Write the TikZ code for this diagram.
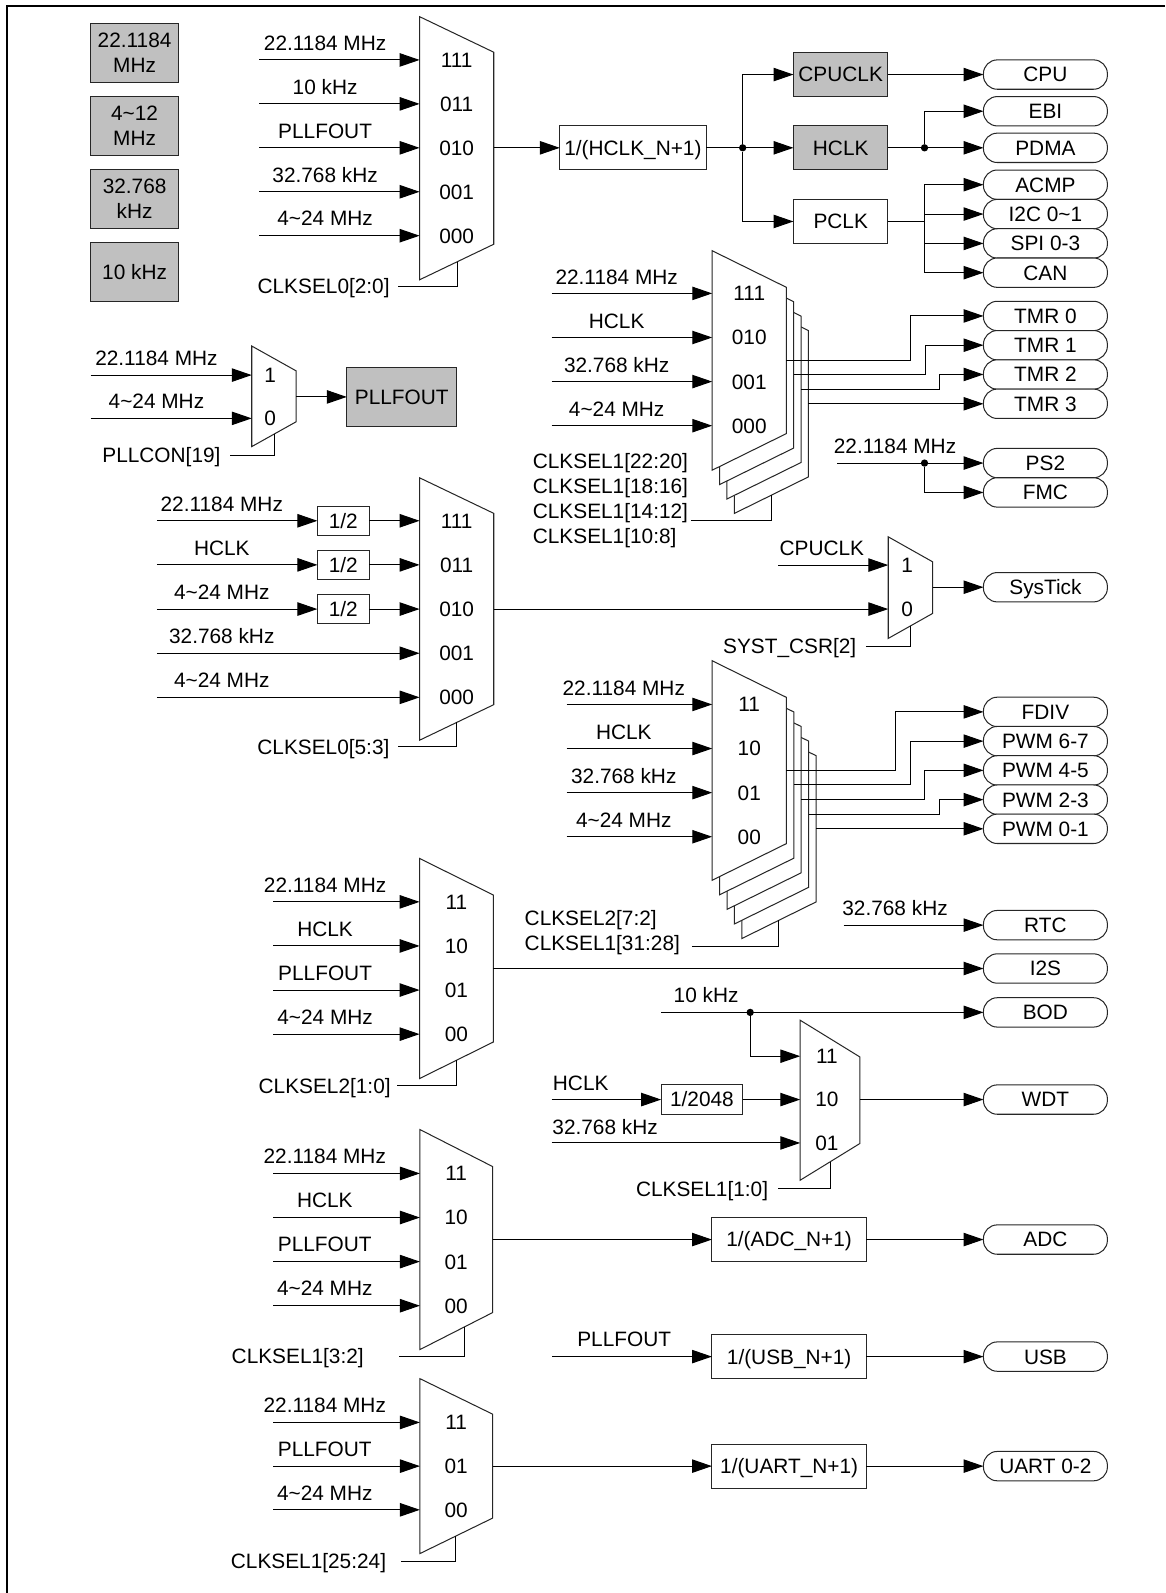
\documentclass[tikz,border=0pt]{standalone}
\usepackage{fontspec}
\setmainfont{Liberation Sans}
\usetikzlibrary{arrows.meta}
\definecolor{clkgray}{RGB}{192,192,192}

\tikzset{
    sig/.style={line width=0.5pt, -{Triangle[length=9.8pt, width=6.6pt]}},
    wire/.style={line width=0.5pt},
    muxedge/.style={line width=0.5pt, draw=black!85, fill=white},
    blk/.style={draw=black!85, line width=0.5pt, inner sep=0pt, outer sep=0pt},
    divbox/.style={blk, fill=white, text height=7.3pt, text depth=0pt},
    clkbox/.style={divbox, fill=clkgray},
    srcbox/.style={blk, fill=clkgray, align=center, minimum width=43.5pt, minimum height=29pt},
    devbox/.style={divbox, rounded corners=6.8pt, minimum width=61pt, minimum height=14.45pt},
    txt/.style={inner sep=0pt, outer sep=0pt},
    jdot/.style={circle, fill, inner sep=0pt, minimum size=3.6pt}
}

\newcommand{\clkmux}[5]{%
    \draw[muxedge] (#1,#2) -- ++(#4,#5) -- ++(0,{#3-2*#5}) -- ++(-#4,#5) -- cycle;%
}

\begin{document}
\begin{tikzpicture}[x=0.5pt, y=-0.5pt, font=\fontsize{10.25}{12.35}\selectfont]
            \useasboundingbox (0,0) rectangle (1147,1568);
            \draw[line width=1pt] (6.6,1568) -- (6.6,5.6) -- (1147,5.6);

            \foreach \n/\y/\t in {xt22/52/{22.1184\\MHz}, xthf/124/{4\textasciitilde12\\MHz}, xtlf/196/{32.768\\kHz}, lirc/268/{10 kHz}}
                {
                    \node[srcbox] (\n) at (132.5,\y) {\t};
                }

            \clkmux{413}{16.4}{259}{73}{35}
            \foreach \i/\y/\t/\code in {1/59/22.1184 MHz/111, 2/102.25/10 kHz/011, 3/145.5/PLLFOUT/010, 4/188.75/32.768 kHz/001, 5/232/4\textasciitilde24 MHz/000}
                {
                    \coordinate (hs-src-\i) at (255,\y);
                    \coordinate (hs-in-\i) at (413,\y);
                    \draw[sig] (hs-src-\i) -- (hs-in-\i);
                    \node[txt, anchor=base] (hs-lbl-\i) at (320,\y-9.6) {\t};
                    \node[txt, anchor=base] (hs-code-\i) at (449.5,\y+7.3) {\code};
                }
            \coordinate (hs-sel) at (450,257.7);
            \coordinate (hs-ctl) at (392,282);
            \draw[wire] (hs-ctl) -| (hs-sel);
            \node[txt, anchor=base east] (hs-ctl-lbl) at (383.5,289.3) {CLKSEL0[2:0]};

            \node[divbox, minimum width=72pt, minimum height=21.7pt] (hdiv) at (623,145.5) {1/(HCLK\_N+1)};
            \coordinate (hs-out) at (486,145.5);
            \draw[sig] (hs-out) -- (hdiv);
            \node[clkbox, minimum width=46.5pt, minimum height=21.8pt] (cpuclk) at (827.5,73.4) {CPUCLK};
            \node[clkbox, minimum width=46.5pt, minimum height=21.8pt] (hclk) at (827.5,145.5) {HCLK};
            \node[divbox, minimum width=46.5pt, minimum height=21.8pt] (pclk) at (827.5,218) {PCLK};
            \node[jdot] (j-bus) at (731,145.5) {};
            \draw[sig] (hdiv) -- (hclk);
            \draw[sig] (j-bus) |- (cpuclk);
            \draw[sig] (j-bus) |- (pclk);

            \foreach \n/\y/\t in {cpu/73.4/CPU, ebi/109.5/EBI, pdma/145.5/PDMA, acmp/181.8/ACMP, i2c/210.7/I2C 0\textasciitilde1, spi/239.6/SPI 0-3, can/268.4/CAN}
                {
                    \node[devbox] (\n) at (1029,\y) {\t};
                }
            \draw[sig] (cpuclk) -- (cpu);
            \node[jdot] (j-hclk) at (910,145.5) {};
            \draw[sig] (hclk) -- (pdma);
            \draw[sig] (j-hclk) |- (ebi);
            \coordinate (j-pclk) at (910,218);
            \draw[wire] (pclk) -- (j-pclk);
            \foreach \n in {acmp,i2c,spi,can}
                {
                    \draw[sig] (j-pclk) |- (\n);
                }

            \clkmux{247.8}{340.6}{99}{43.6}{24.4}
            \foreach \i/\y/\t/\code in {1/369.2/22.1184 MHz/1, 2/411.8/4\textasciitilde24 MHz/0}
                {
                    \coordinate (pl-src-\i) at (89.3,\y);
                    \coordinate (pl-in-\i) at (247.8,\y);
                    \draw[sig] (pl-src-\i) -- (pl-in-\i);
                    \node[txt, anchor=base] (pl-lbl-\i) at (154,\y-9.6) {\t};
                    \node[txt, anchor=base] (pl-code-\i) at (266,\y+7.3) {\code};
                }
            \node[clkbox, minimum width=54.15pt, minimum height=28.7pt] (pllfout) at (395.5,390.7) {PLLFOUT};
            \coordinate (pl-out) at (291.4,390.7);
            \draw[sig] (pl-out) -- (pllfout);
            \coordinate (pl-sel) at (270,427.2);
            \coordinate (pl-ctl) at (226.4,448);
            \draw[wire] (pl-ctl) -| (pl-sel);
            \node[txt, anchor=base east] (pl-ctl-lbl) at (217,455.3) {PLLCON[19]};

            \foreach \k in {3,2,1,0}
                {
                    \clkmux{701+7.25*\k}{246.8+14.2*\k}{216}{73}{36}
                }
            \foreach \i/\y/\t/\code in {1/288.8/22.1184 MHz/111, 2/332.2/HCLK/010, 3/375.6/32.768 kHz/001, 4/419/4\textasciitilde24 MHz/000}
                {
                    \coordinate (tm-src-\i) at (543,\y);
                    \coordinate (tm-in-\i) at (701,\y);
                    \draw[sig] (tm-src-\i) -- (tm-in-\i);
                    \node[txt, anchor=base] (tm-lbl-\i) at (607,\y-9.2) {\t};
                    \node[txt, anchor=base] (tm-code-\i) at (737.5,\y+7.3) {\code};
                }
            \foreach \k/\n/\y/\t/\x in {0/tmr0/311/TMR 0/896, 1/tmr1/339.8/TMR 1/911, 2/tmr2/368.6/TMR 2/925, 3/tmr3/397.45/TMR 3/940}
                {
                    \node[devbox] (\n) at (1029,\y) {\t};
                    \coordinate (tm-out-\k) at (774+7.25*\k,354.4+14.35*\k);
                    \draw[sig] (tm-out-\k) -| (\x,\y) -- (\n);
                }
            \coordinate (tm-sel) at (759.7,487.2);
            \coordinate (tm-ctl) at (680,512.6);
            \draw[wire] (tm-ctl) -| (tm-sel);
            \foreach \i/\y/\t in {1/461/CLKSEL1[22:20], 2/485.5/CLKSEL1[18:16], 3/510/CLKSEL1[14:12], 4/534.5/CLKSEL1[10:8]}
                {
                    \node[txt, anchor=base west] (tm-ctl-\i) at (524.5,\y) {\t};
                }

            \node[devbox] (ps2) at (1029,455.8) {PS2};
            \node[devbox] (fmc) at (1029,484.7) {FMC};
            \coordinate (ps-src) at (824,455.8);
            \node[txt, anchor=base] (ps-lbl) at (881,446.2) {22.1184 MHz};
            \draw[sig] (ps-src) -- (ps2);
            \node[jdot] (j-ps) at (910,455.8) {};
            \draw[sig] (j-ps) |- (fmc);

            \clkmux{413}{470.3}{258.3}{73}{35}
            \foreach \i/\y/\t/\code in {1/512.6/22.1184 MHz/111, 2/556/HCLK/011, 3/599.5/4\textasciitilde24 MHz/010, 4/643/32.768 kHz/001, 5/686.4/4\textasciitilde24 MHz/000}
                {
                    \coordinate (sc-src-\i) at (154.3,\y);
                    \coordinate (sc-in-\i) at (413,\y);
                    \node[txt, anchor=base] (sc-lbl-\i) at (218.3,\y-9.6) {\t};
                    \node[txt, anchor=base] (sc-code-\i) at (449.5,\y+7.3) {\code};
                }
            \foreach \i/\y in {1/512.6, 2/556, 3/599.5}
                {
                    \node[divbox, minimum width=25.5pt, minimum height=14.1pt] (half-\i) at (337.9,\y) {1/2};
                    \draw[sig] (sc-src-\i) -- (half-\i);
                    \draw[sig] (half-\i) -- (sc-in-\i);
                }
            \foreach \i in {4,5}
                {
                    \draw[sig] (sc-src-\i) -- (sc-in-\i);
                }
            \coordinate (sc-sel) at (449.6,711.1);
            \coordinate (sc-ctl) at (392,735);
            \draw[wire] (sc-ctl) -| (sc-sel);
            \node[txt, anchor=base east] (sc-ctl-lbl) at (383.3,742.3) {CLKSEL0[5:3]};
            \coordinate (sc-out) at (486,599.5);

            \clkmux{874.3}{528.4}{100}{43.7}{24.6}
            \coordinate (st-in-1) at (874.3,556.2);
            \coordinate (st-in-0) at (874.3,599.5);
            \coordinate (st-src-1) at (765.8,556.2);
            \draw[sig] (st-src-1) -- (st-in-1);
            \draw[sig] (sc-out) -- (st-in-0);
            \node[txt, anchor=base] (st-lbl-1) at (809,546.6) {CPUCLK};
            \node[txt, anchor=base] (st-code-1) at (893,563.5) {1};
            \node[txt, anchor=base] (st-code-0) at (893,606.8) {0};
            \node[devbox] (systick) at (1029,578) {SysTick};
            \coordinate (st-out) at (918,578);
            \draw[sig] (st-out) -- (systick);
            \coordinate (st-sel) at (896.4,616);
            \coordinate (st-ctl) at (852.2,636);
            \draw[wire] (st-ctl) -| (st-sel);
            \node[txt, anchor=base east] (st-ctl-lbl) at (842.8,643.3) {SYST\_CSR[2]};

            \foreach \k in {4,3,2,1,0}
                {
                    \clkmux{701+7.3*\k}{650.4+14.35*\k}{216}{73}{36}
                }
            \foreach \i/\y/\t/\code in {1/693.4/22.1184 MHz/11, 2/736.8/HCLK/10, 3/780.2/32.768 kHz/01, 4/823.6/4\textasciitilde24 MHz/00}
                {
                    \coordinate (pw-src-\i) at (557.8,\y);
                    \coordinate (pw-in-\i) at (701,\y);
                    \draw[sig] (pw-src-\i) -- (pw-in-\i);
                    \node[txt, anchor=base] (pw-lbl-\i) at (614,\y-9.2) {\t};
                    \node[txt, anchor=base] (pw-code-\i) at (737.5,\y+7.3) {\code};
                }
            \foreach \k/\n/\y/\t/\x in {0/fdiv/700.7/FDIV/881, 1/pwm67/729.5/PWM 6-7/896, 2/pwm45/758.3/PWM 4-5/910, 3/pwm23/787.1/PWM 2-3/924.5, 4/pwm01/815.8/PWM 0-1/940}
                {
                    \node[devbox] (\n) at (1029,\y) {\t};
                    \coordinate (pw-out-\k) at (774+7.3*\k,758+14.45*\k);
                    \draw[sig] (pw-out-\k) -| (\x,\y) -- (\n);
                }
            \coordinate (pw-sel) at (766.6,905.9);
            \coordinate (pw-ctl) at (681,931.4);
            \draw[wire] (pw-ctl) -| (pw-sel);
            \node[txt, anchor=base west] (pw-ctl-1) at (516.5,911.3) {CLKSEL2[7:2]};
            \node[txt, anchor=base west] (pw-ctl-2) at (516.5,936) {CLKSEL1[31:28]};

            \node[devbox] (rtc) at (1029,910.6) {RTC};
            \coordinate (rtc-src) at (830.4,910.6);
            \draw[sig] (rtc-src) -- (rtc);
            \node[txt, anchor=base] (rtc-lbl) at (881,901) {32.768 kHz};

            \clkmux{413}{845}{216.6}{72.7}{36}
            \foreach \i/\y/\t/\code in {1/887.7/22.1184 MHz/11, 2/931.1/HCLK/10, 3/974.5/PLLFOUT/01, 4/1017.9/4\textasciitilde24 MHz/00}
                {
                    \coordinate (is-src-\i) at (269,\y);
                    \coordinate (is-in-\i) at (413,\y);
                    \draw[sig] (is-src-\i) -- (is-in-\i);
                    \node[txt, anchor=base] (is-lbl-\i) at (320,\y-9.6) {\t};
                    \node[txt, anchor=base] (is-code-\i) at (449.3,\y+7.3) {\code};
                }
            \node[devbox] (i2s) at (1029,953.3) {I2S};
            \coordinate (is-out) at (485.7,953.3);
            \draw[sig] (is-out) -- (i2s);
            \coordinate (is-sel) at (449,1043.8);
            \coordinate (is-ctl) at (391,1068.8);
            \draw[wire] (is-ctl) -| (is-sel);
            \node[txt, anchor=base east] (is-ctl-lbl) at (384.5,1076.1) {CLKSEL2[1:0]};

            \node[devbox] (bod) at (1029,996.5) {BOD};
            \coordinate (bod-src) at (650.7,996.5);
            \node[txt, anchor=base] (bod-lbl) at (695,986.9) {10 kHz};
            \draw[sig] (bod-src) -- (bod);
            \node[jdot] (j-lirc) at (738.4,996.5) {};
            \clkmux{787.6}{1004.2}{157.5}{58.7}{36.1}
            \foreach \i/\y/\code in {1/1039.6/11, 2/1082.3/10, 3/1125/01}
                {
                    \coordinate (wd-in-\i) at (787.6,\y);
                    \node[txt, anchor=base] (wd-code-\i) at (814,\y+7.3) {\code};
                }
            \draw[sig] (j-lirc) |- (wd-in-1);
            \coordinate (wd-src-2) at (543,1082.3);
            \node[divbox, minimum width=40.15pt, minimum height=14.4pt] (wdiv) at (690.9,1082.3) {1/2048};
            \draw[sig] (wd-src-2) -- (wdiv);
            \draw[sig] (wdiv) -- (wd-in-2);
            \node[txt, anchor=base] (wd-lbl-2) at (571.6,1073.5) {HCLK};
            \coordinate (wd-src-3) at (543,1125);
            \draw[sig] (wd-src-3) -- (wd-in-3);
            \node[txt, anchor=base] (wd-lbl-3) at (595.6,1117) {32.768 kHz};
            \node[devbox] (wdt) at (1029,1082.3) {WDT};
            \coordinate (wd-out) at (846.3,1082.3);
            \draw[sig] (wd-out) -- (wdt);
            \coordinate (wd-sel) at (817,1143.6);
            \coordinate (wd-ctl) at (765.8,1170);
            \draw[wire] (wd-ctl) -| (wd-sel);
            \node[txt, anchor=base east] (wd-ctl-lbl) at (756,1177.3) {CLKSEL1[1:0]};

            \clkmux{413.3}{1111.8}{216.6}{71.7}{36.5}
            \foreach \i/\y/\t/\code in {1/1155/22.1184 MHz/11, 2/1198.4/HCLK/10, 3/1241.8/PLLFOUT/01, 4/1285.2/4\textasciitilde24 MHz/00}
                {
                    \coordinate (ad-src-\i) at (269.2,\y);
                    \coordinate (ad-in-\i) at (413.3,\y);
                    \draw[sig] (ad-src-\i) -- (ad-in-\i);
                    \node[txt, anchor=base] (ad-lbl-\i) at (319.7,\y-9.6) {\t};
                    \node[txt, anchor=base] (ad-code-\i) at (449,\y+7.3) {\code};
                }
            \node[divbox, minimum width=76pt, minimum height=21.7pt] (adcdiv) at (776.75,1220.1) {1/(ADC\_N+1)};
            \node[devbox] (adc) at (1029,1220.1) {ADC};
            \coordinate (ad-out) at (485,1220.1);
            \draw[sig] (ad-out) -- (adcdiv);
            \draw[sig] (adcdiv) -- (adc);
            \coordinate (ad-sel) at (457,1306.2);
            \coordinate (ad-ctl) at (392.8,1335);
            \draw[wire] (ad-ctl) -| (ad-sel);
            \node[txt, anchor=base east] (ad-ctl-lbl) at (358,1342.3) {CLKSEL1[3:2]};

            \node[divbox, minimum width=76pt, minimum height=21.7pt] (usbdiv) at (776.75,1335.3) {1/(USB\_N+1)};
            \node[devbox] (usb) at (1029,1335.3) {USB};
            \coordinate (usb-src) at (543.5,1335.3);
            \node[txt, anchor=base] (usb-lbl) at (614.4,1325.7) {PLLFOUT};
            \draw[sig] (usb-src) -- (usbdiv);
            \draw[sig] (usbdiv) -- (usb);

            \clkmux{413.3}{1357}{172.2}{71.7}{35}
            \foreach \i/\y/\t/\code in {1/1400.1/22.1184 MHz/11, 2/1443.1/PLLFOUT/01, 3/1486.1/4\textasciitilde24 MHz/00}
                {
                    \coordinate (ua-src-\i) at (269.2,\y);
                    \coordinate (ua-in-\i) at (413.3,\y);
                    \draw[sig] (ua-src-\i) -- (ua-in-\i);
                    \node[txt, anchor=base] (ua-lbl-\i) at (319.7,\y-9.6) {\t};
                    \node[txt, anchor=base] (ua-code-\i) at (449,\y+7.3) {\code};
                }
            \node[divbox, minimum width=76pt, minimum height=21.7pt] (uartdiv) at (776.75,1443.1) {1/(UART\_N+1)};
            \node[devbox] (uart) at (1029,1443.1) {UART 0-2};
            \coordinate (ua-out) at (485,1443.1);
            \draw[sig] (ua-out) -- (uartdiv);
            \draw[sig] (uartdiv) -- (uart);
            \coordinate (ua-sel) at (448.4,1512.1);
            \coordinate (ua-ctl) at (394.9,1536.8);
            \draw[wire] (ua-ctl) -| (ua-sel);
            \node[txt, anchor=base east] (ua-ctl-lbl) at (380,1544) {CLKSEL1[25:24]};

\end{tikzpicture}
\end{document}
